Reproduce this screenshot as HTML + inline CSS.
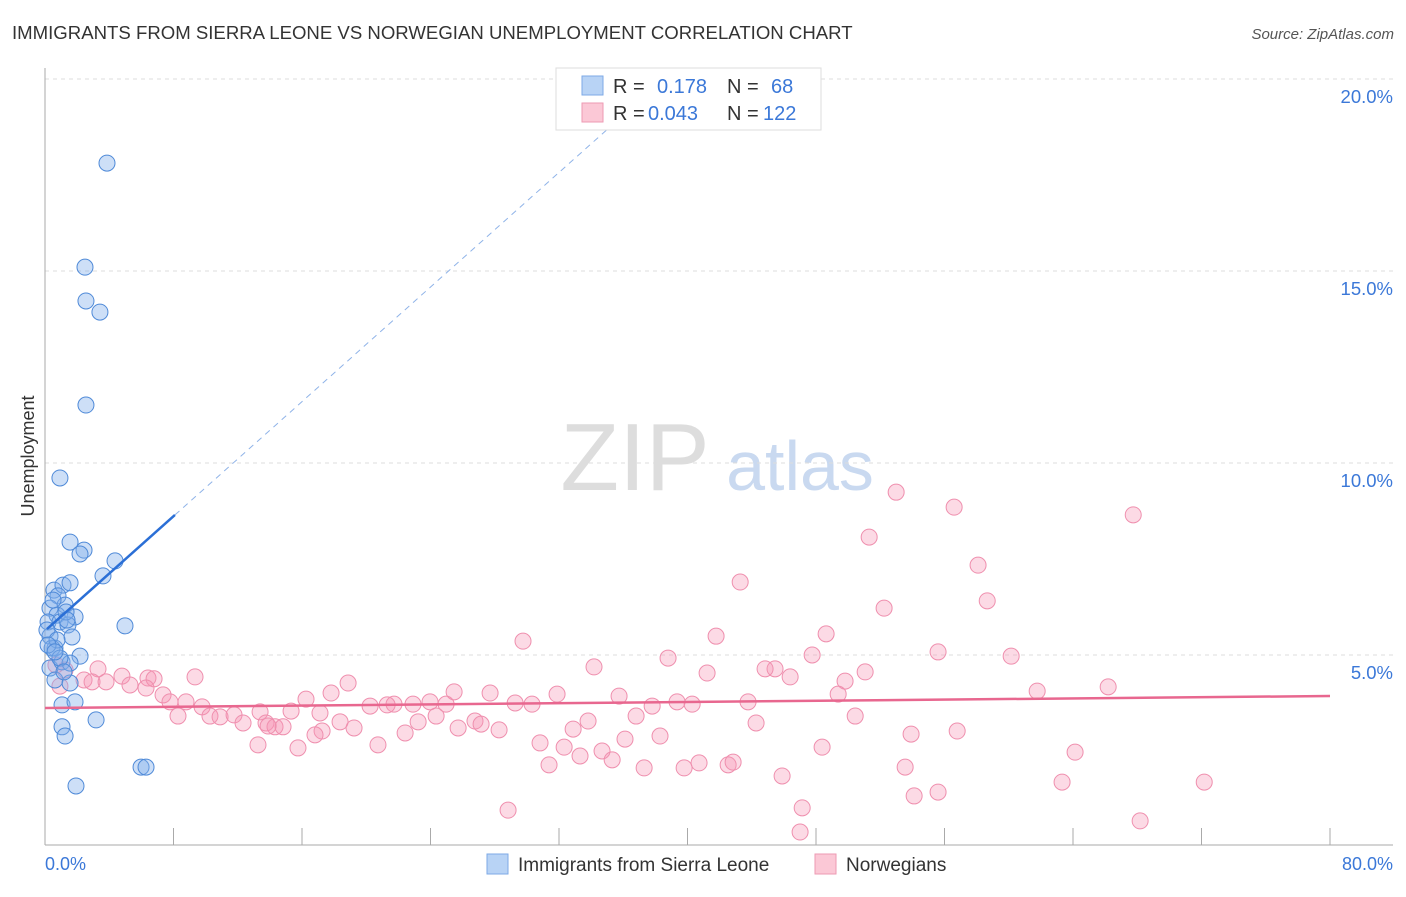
<!DOCTYPE html>
<html><head><meta charset="utf-8"><style>
body{margin:0;background:#fff;font-family:"Liberation Sans",sans-serif;}
svg text{font-family:"Liberation Sans",sans-serif;}
</style></head><body>
<svg id="c" width="1406" height="892" xmlns="http://www.w3.org/2000/svg">
<text x="12" y="39" font-size="18.6" fill="#333">IMMIGRANTS FROM SIERRA LEONE VS NORWEGIAN UNEMPLOYMENT CORRELATION CHART</text>
<text x="1394" y="39" font-size="15" fill="#555" text-anchor="end" font-style="italic">Source: ZipAtlas.com</text>
<text x="0" y="0" transform="translate(34,456) rotate(-90)" font-size="18" fill="#333" text-anchor="middle">Unemployment</text>
<g><text x="635" y="490" font-size="96" fill="#ddd" font-family="Liberation Serif" text-anchor="middle">ZIP</text><text x="800" y="490" font-size="70" fill="#c9d9f0" text-anchor="middle">atlas</text></g>
<g id="grid"></g><g id="pink"></g><g id="blue"></g><g id="lines"></g>
<g>
<rect x="556" y="68" width="265" height="62" fill="#fff" stroke="#ddd"/>
<rect x="582" y="76" width="21" height="19" fill="#b8d3f5" stroke="#7ea9e6"/>
<rect x="582" y="103" width="21" height="19" fill="#fbc8d6" stroke="#ee9ab3"/>
<text x="613" y="93" font-size="20" fill="#333">R = </text><text x="657" y="93" font-size="20" fill="#3b78d8">0.178</text>
<text x="727" y="93" font-size="20" fill="#333">N = </text><text x="771" y="93" font-size="20" fill="#3b78d8">68</text>
<text x="613" y="120" font-size="20" fill="#333">R = </text><text x="648" y="120" font-size="20" fill="#3b78d8">0.043</text>
<text x="727" y="120" font-size="20" fill="#333">N = </text><text x="763" y="120" font-size="20" fill="#3b78d8">122</text>
</g>
<g>
<rect x="487" y="854" width="21" height="20" fill="#b8d3f5" stroke="#7ea9e6"/>
<text x="518" y="871" font-size="19" fill="#333">Immigrants from Sierra Leone</text>
<rect x="815" y="854" width="21" height="20" fill="#fbc8d6" stroke="#ee9ab3"/>
<text x="846" y="871" font-size="19" fill="#333">Norwegians</text>
</g>
<text x="45" y="870" font-size="18" fill="#3b78d8">0.0%</text>
<text x="1393" y="870" font-size="18" fill="#3b78d8" text-anchor="end">80.0%</text>
</svg>
<script>
const blueX=[3.86,2.49,2.55,3.42,2.55,0.93,1.56,2.43,2.18,4.36,3.61,0.56,1.12,1.56,0.81,1.25,0.31,0.75,1.87,0.19,0.93,1.43,4.98,0.31,1.68,0.62,2.18,0.31,1.06,1.56,0.62,1.56,1.06,1.87,1.06,1.25,3.18,5.98,6.29,1.93,0.44,0.12,0.75,1.31,0.50,0.19,0.93,1.18,0.62,1.37];
const blueY=[17.81,15.10,14.22,13.93,11.51,9.61,7.94,7.73,7.63,7.45,7.06,6.69,6.82,6.88,6.54,6.30,6.22,6.04,5.99,5.86,5.86,5.78,5.76,5.49,5.47,5.18,4.97,4.66,4.82,4.79,4.35,4.27,3.70,3.78,3.13,2.89,3.31,2.08,2.08,1.59,5.18,5.65,5.39,6.12,6.43,5.26,4.92,4.56,5.08,5.91];
const pinkX=[52.99,56.60,67.75,51.31,58.09,43.28,58.66,52.24,41.78,48.63,29.76,45.45,44.83,47.76,55.60,60.15,34.18,38.79,41.22,46.39,51.06,49.81,49.38,61.77,66.19,9.34,18.87,3.30,4.79,6.41,6.79,2.43,2.93,3.80,5.29,6.29,7.35,8.78,7.78,8.28,9.78,10.27,10.90,11.77,12.33,13.39,13.76,14.32,14.82,15.32,16.25,17.81,17.12,17.25,18.37,19.24,20.24,20.73,21.73,21.30,22.42,22.91,23.23,23.97,24.35,24.97,25.47,25.72,26.77,27.15,27.71,28.27,29.27,30.32,31.88,30.82,31.38,32.32,33.31,32.88,33.81,34.68,35.31,35.74,36.11,36.80,37.30,37.80,38.29,39.35,39.79,40.29,40.72,42.53,42.84,43.77,44.27,45.89,48.38,50.44,53.92,53.55,54.11,55.60,56.79,63.32,64.13,72.17,28.83,47.14,47.01,68.18,13.26,15.75,16.81,13.89,0.68,1.25,0.93];
const pinkY=[9.24,8.85,8.65,8.07,7.34,6.90,6.41,6.22,5.49,5.55,5.36,4.64,4.64,5.00,5.08,4.97,4.69,4.92,4.53,4.43,4.56,4.32,3.98,4.06,4.17,4.43,4.27,4.64,4.45,4.40,4.38,4.35,4.30,4.30,4.22,4.14,3.96,3.78,3.78,3.41,3.65,3.41,3.39,3.44,3.23,3.52,3.23,3.13,3.13,3.54,3.85,4.01,3.49,3.02,3.26,3.10,3.67,2.66,3.72,3.70,2.97,3.72,3.26,3.78,3.41,3.72,4.04,3.10,3.28,3.20,4.01,3.05,3.75,3.72,3.98,2.71,2.14,2.60,2.37,3.07,3.28,2.50,2.27,3.93,2.81,3.41,2.06,3.67,2.89,3.78,2.06,3.72,2.19,2.14,2.21,3.78,3.23,1.85,2.60,3.41,2.94,2.08,1.33,1.43,3.02,1.69,2.47,1.69,0.96,1.02,0.39,0.68,2.66,2.58,2.92,3.15,4.74,4.61,4.19];
const yTicks=[5,10,15,20];
const yTickLabels=["5.0%","10.0%","15.0%","20.0%"];
const xTicks=[8,16,24,32,40,48,56,64,72,80];
const blueTrend=[5.63,0.373];
const pinkTrend=[3.62,0.0039];
const NS="http://www.w3.org/2000/svg";
const sx=v=>45+v*1285/80, sy=v=>847-v*38.4;
function mk(t,a,p){const e=document.createElementNS(NS,t);for(const k in a)e.setAttribute(k,a[k]);p.appendChild(e);return e;}
const grid=document.getElementById('grid');
yTicks.forEach((t,i)=>{
 const l=mk('line',{x1:45,x2:1393,y1:sy(t),y2:sy(t),stroke:'#ddd','stroke-dasharray':'4,4'},grid);
 
 
 const tx=mk('text',{x:1393,y:sy(t)+24,'font-size':18.5,fill:'#3b78d8','text-anchor':'end'},grid);
 tx.textContent=yTickLabels[i];
 
 
});
const ax=mk('line',{x1:45,x2:45,y1:68,y2:845,stroke:'#aaa'},grid);


const bx=mk('line',{x1:45,x2:1393,y1:845,y2:845,stroke:'#aaa'},grid);


xTicks.forEach(t=>{const l=mk('line',{x1:sx(t),x2:sx(t),y1:828,y2:845,stroke:'#aaa'},grid);
 
 });
const pg=document.getElementById('pink');
pinkX.forEach((x,i)=>{const c=mk('circle',{cx:sx(x),cy:sy(pinkY[i]),r:8,fill:'rgba(245,150,180,0.35)',stroke:'#ef8fae','stroke-width':1},pg);
 
 });
const bg=document.getElementById('blue');
blueX.forEach((x,i)=>{const c=mk('circle',{cx:sx(x),cy:sy(blueY[i]),r:8,fill:'rgba(130,175,235,0.4)',stroke:'#4f8ad8','stroke-width':1},bg);
 
 });
const lg=document.getElementById('lines');
const bl=mk('line',{x1:sx(0.12),y1:sy(blueTrend[0]+blueTrend[1]*0.12),x2:sx(8.09),y2:sy(blueTrend[0]+blueTrend[1]*8.09),stroke:'#2b6fd6','stroke-width':2.5},lg);


const bd=mk('line',{x1:sx(8.09),y1:sy(blueTrend[0]+blueTrend[1]*8.09),x2:sx(39),y2:sy(blueTrend[0]+blueTrend[1]*39),stroke:'#8fb3e8','stroke-width':1,'stroke-dasharray':'6,5'},lg);


const pl=mk('line',{x1:sx(0),y1:sy(pinkTrend[0]),x2:sx(80),y2:sy(pinkTrend[0]+pinkTrend[1]*80),stroke:'#e8678f','stroke-width':2.5},lg);


</script>
</body></html>
